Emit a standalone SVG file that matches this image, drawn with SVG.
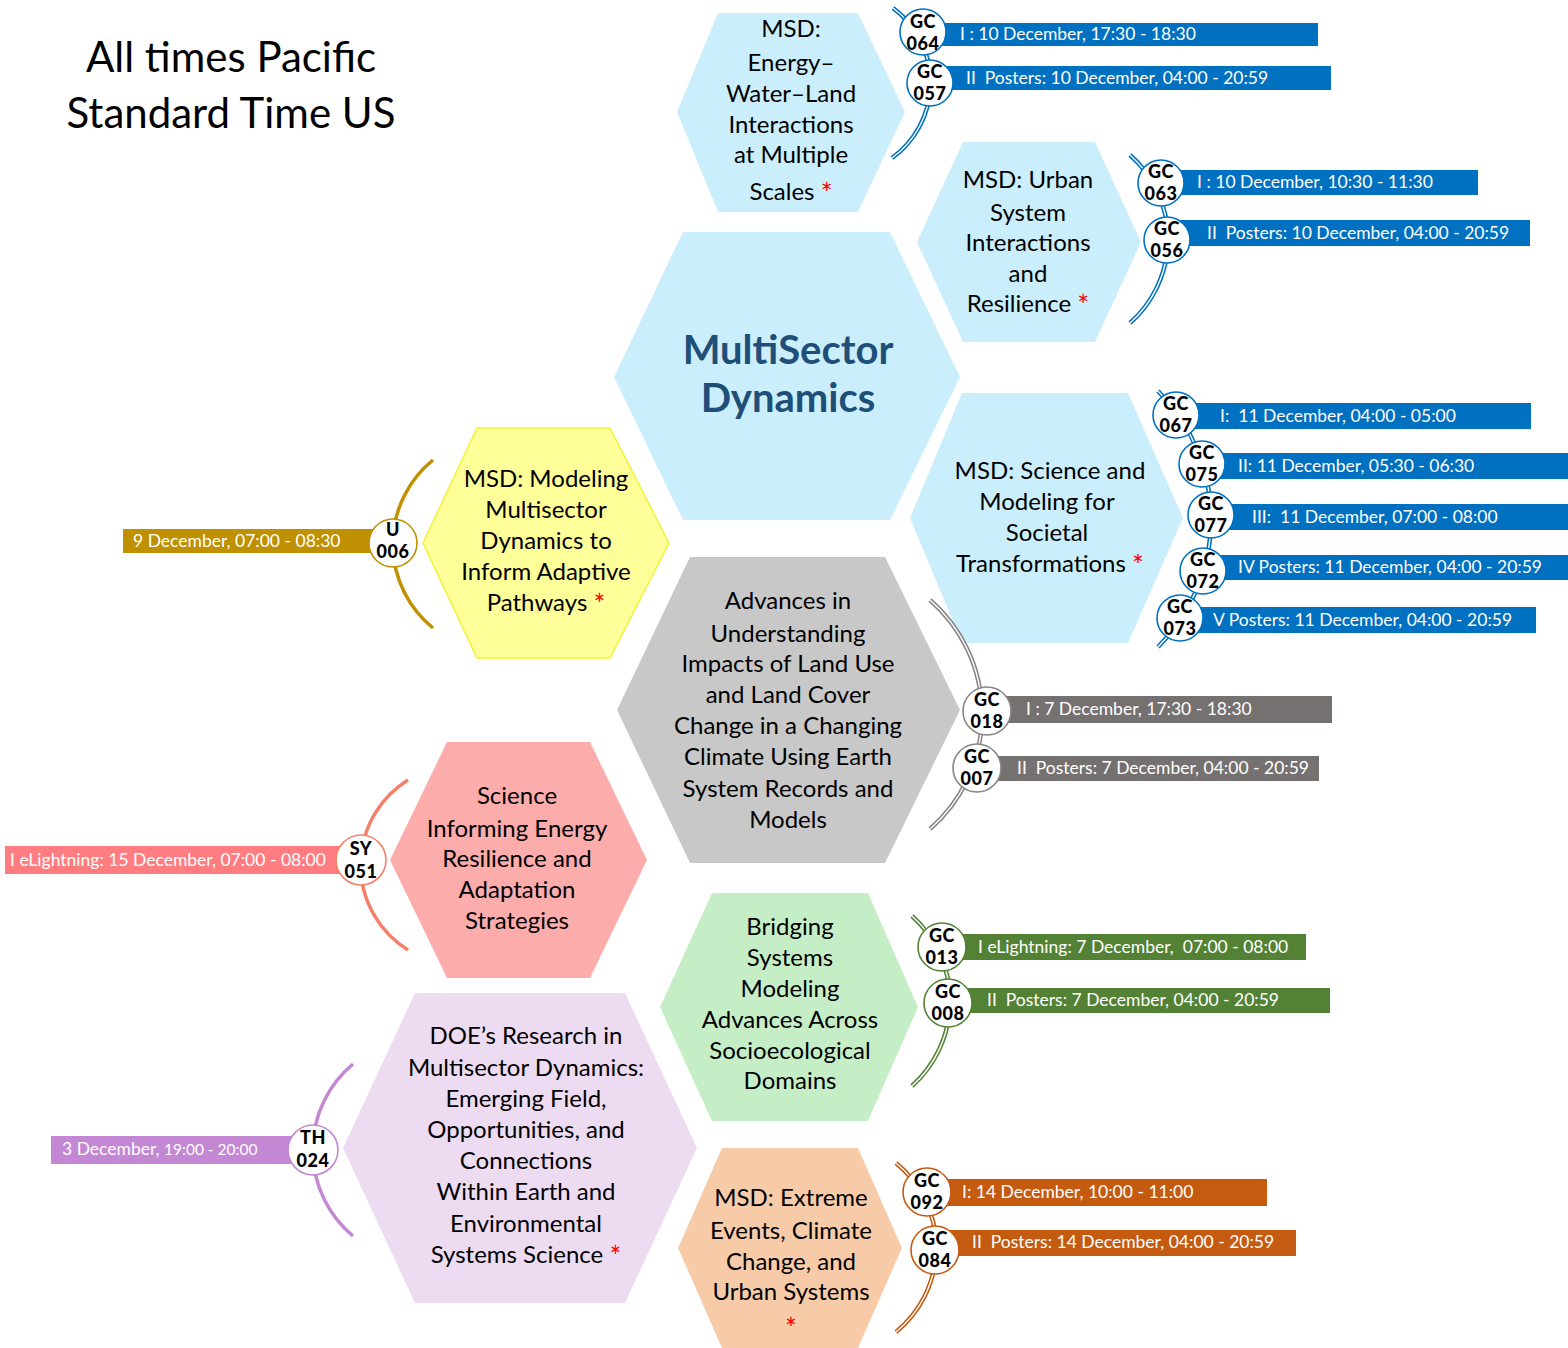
<svg xmlns="http://www.w3.org/2000/svg" width="1568" height="1348" viewBox="0 0 1568 1348">
<style>
text{font-family:Lato,"Open Sans","Liberation Sans",sans-serif}
.t{font-size:24px;fill:#000;text-anchor:middle}
.ast{fill:#ff0000;font-size:28px}
.title{font-size:42px;fill:#000;text-anchor:middle}
.big{font-size:40px;font-weight:700;fill:#1f4e79;text-anchor:middle}
.bt{font-size:17.5px;fill:#fff;white-space:pre}
.cid{font-size:18px;font-weight:900;fill:#000;text-anchor:middle;letter-spacing:0.5px}
.cw{fill:#fff;stroke-width:1.6}
.dbl{fill:none;stroke-width:4.5}
.inner{fill:none;stroke:#fff;stroke-width:1.4}
.sgl{fill:none;stroke-width:3.5}
.blue{fill:#0070c0}
.sblue{stroke:#0070c0}
.gray{fill:#767171}
.sgray{stroke:#8a8585}
.green{fill:#548235}
.sgreen{stroke:#548235}
.orange{fill:#c55a11}
.sorange{stroke:#c55a11}
</style>

<g id="title">
<text class="title" x="231" y="72">All times Pacific</text>
<text class="title" x="231" y="128">Standard Time US</text>
</g>

<g id="hex-energy">
<polygon points="677,112 718,13 858,13 905,112 858,212 718,212" fill="#cbeefc"/>
<text class="t" x="791" y="37">MSD:</text>
<text class="t" x="791" y="71">Energy–</text>
<text class="t" x="791" y="102">Water–Land</text>
<text class="t" x="791" y="133">Interactions</text>
<text class="t" x="791" y="163">at Multiple</text>
<text class="t" x="791" y="200">Scales <tspan class="ast" dy="4">*</tspan></text>
</g>

<g id="hex-msd">
<polygon points="614,377 683,232 890,232 960,377 890,520 683,520" fill="#cbeefc"/>
<text class="big" x="788" y="364">MultiSector</text>
<text class="big" x="788" y="412">Dynamics</text>
</g>

<g id="hex-urban">
<polygon points="917,242 963,142 1095,142 1141,242 1095,342 963,342" fill="#cbeefc"/>
<text class="t" x="1028" y="188">MSD: Urban</text>
<text class="t" x="1028" y="221">System</text>
<text class="t" x="1028" y="251">Interactions</text>
<text class="t" x="1028" y="282">and</text>
<text class="t" x="1028" y="312">Resilience <tspan class="ast" dy="4">*</tspan></text>
</g>

<g id="hex-societal">
<polygon points="910,518 962,393 1128,393 1183,518 1128,643 962,643" fill="#cbeefc"/>
<text class="t" x="1050" y="479">MSD: Science and</text>
<text class="t" x="1047" y="510">Modeling for</text>
<text class="t" x="1047" y="541">Societal</text>
<text class="t" x="1050" y="572">Transformations <tspan class="ast" dy="4">*</tspan></text>
</g>

<g id="hex-adaptive">
<polygon points="423,543 477,428 610,428 669,543 610,658 477,658" fill="#ffff99" stroke="#f2f23a" stroke-width="1.5"/>
<text class="t" x="546" y="487">MSD: Modeling</text>
<text class="t" x="546" y="518">Multisector</text>
<text class="t" x="546" y="549">Dynamics to</text>
<text class="t" x="546" y="580">Inform Adaptive</text>
<text class="t" x="546" y="611">Pathways <tspan class="ast" dy="4">*</tspan></text>
</g>

<g id="hex-landuse">
<polygon points="617,710 690,557 885,557 960,710 885,863 690,863" fill="#c8c8c8"/>
<text class="t" x="788" y="609">Advances in</text>
<text class="t" x="788" y="642">Understanding</text>
<text class="t" x="788" y="672">Impacts of Land Use</text>
<text class="t" x="788" y="703">and Land Cover</text>
<text class="t" x="788" y="734">Change in a Changing</text>
<text class="t" x="788" y="765">Climate Using Earth</text>
<text class="t" x="788" y="797">System Records and</text>
<text class="t" x="788" y="828">Models</text>
</g>

<g id="hex-energyres">
<polygon points="390,860 447,742 590,742 647,860 590,978 447,978" fill="#fdacac"/>
<text class="t" x="517" y="804">Science</text>
<text class="t" x="517" y="837">Informing Energy</text>
<text class="t" x="517" y="867">Resilience and</text>
<text class="t" x="517" y="898">Adaptation</text>
<text class="t" x="517" y="929">Strategies</text>
</g>

<g id="hex-bridging">
<polygon points="660,1007 712,893 868,893 918,1007 868,1121 712,1121" fill="#c6eec6"/>
<text class="t" x="790" y="935">Bridging</text>
<text class="t" x="790" y="966">Systems</text>
<text class="t" x="790" y="997">Modeling</text>
<text class="t" x="790" y="1028">Advances Across</text>
<text class="t" x="790" y="1059">Socioecological</text>
<text class="t" x="790" y="1089">Domains</text>
</g>

<g id="hex-doe">
<polygon points="343,1148 415,993 625,993 697,1148 625,1303 415,1303" fill="#eddcf1"/>
<text class="t" x="526" y="1044">DOE’s Research in</text>
<text class="t" x="526" y="1076">Multisector Dynamics:</text>
<text class="t" x="526" y="1107">Emerging Field,</text>
<text class="t" x="526" y="1138">Opportunities, and</text>
<text class="t" x="526" y="1169">Connections</text>
<text class="t" x="526" y="1200">Within Earth and</text>
<text class="t" x="526" y="1232">Environmental</text>
<text class="t" x="526" y="1263">Systems Science <tspan class="ast" dy="4">*</tspan></text>
</g>

<g id="hex-extreme">
<polygon points="678,1248 722,1148 858,1148 902,1248 858,1348 722,1348" fill="#f7cba8"/>
<text class="t" x="791" y="1206">MSD: Extreme</text>
<text class="t" x="791" y="1239">Events, Climate</text>
<text class="t" x="791" y="1270">Change, and</text>
<text class="t" x="791" y="1300">Urban Systems</text>
<text class="t" x="791" y="1339"><tspan class="ast">*</tspan></text>
</g>

<g id="connectors">
<path class="dbl sblue" d="M893,8 A93,93 0 0 1 892,158"/>
<path class="inner" d="M893,8 A93,93 0 0 1 892,158"/>
<path class="dbl sblue" d="M1130,155 A112,112 0 0 1 1130,323"/>
<path class="inner" d="M1130,155 A112,112 0 0 1 1130,323"/>
<path class="dbl sblue" d="M1158,391 A181,181 0 0 1 1158,647"/>
<path class="inner" d="M1158,391 A181,181 0 0 1 1158,647"/>
<path class="dbl sgray" d="M930,600 A152,152 0 0 1 930,829"/>
<path class="inner" d="M930,600 A152,152 0 0 1 930,829"/>
<path class="dbl sgreen" d="M912,916 A114,114 0 0 1 912,1086"/>
<path class="inner" d="M912,916 A114,114 0 0 1 912,1086"/>
<path class="dbl sorange" d="M896,1163 A109,109 0 0 1 896,1332"/>
<path class="inner" d="M896,1163 A109,109 0 0 1 896,1332"/>
<path class="sgl" stroke="#bf9000" d="M433,460 A108,108 0 0 0 433,628"/>
<path class="sgl" stroke="#f4806a" d="M408,780 A100,100 0 0 0 408,950"/>
<path class="sgl" stroke="#c387d3" d="M353,1064 A112,112 0 0 0 353,1236"/>
</g>

<g id="gc064">
<rect class="blue" x="930" y="23" width="388" height="23"/>
<text class="bt" x="960" y="40">I : 10 December, 17:30 - 18:30</text>
<circle class="cw sblue" cx="923" cy="32" r="23"/>
<text class="cid" x="923" y="28">GC</text>
<text class="cid" x="923" y="50">064</text>
</g>
<g id="gc057">
<rect class="blue" x="940" y="66" width="391" height="24"/>
<text class="bt" x="966" y="84">II  Posters: 10 December, 04:00 - 20:59</text>
<circle class="cw sblue" cx="930" cy="83" r="23"/>
<text class="cid" x="930" y="78">GC</text>
<text class="cid" x="930" y="100">057</text>
</g>

<g id="gc063">
<rect class="blue" x="1170" y="170" width="308" height="25"/>
<text class="bt" x="1197" y="188">I : 10 December, 10:30 - 11:30</text>
<circle class="cw sblue" cx="1161" cy="183" r="23"/>
<text class="cid" x="1161" y="178">GC</text>
<text class="cid" x="1161" y="200">063</text>
</g>
<g id="gc056">
<rect class="blue" x="1177" y="220" width="353" height="26"/>
<text class="bt" x="1207" y="239">II  Posters: 10 December, 04:00 - 20:59</text>
<circle class="cw sblue" cx="1167" cy="240" r="23"/>
<text class="cid" x="1167" y="235">GC</text>
<text class="cid" x="1167" y="257">056</text>
</g>

<g id="gc067">
<rect class="blue" x="1185" y="403" width="346" height="26"/>
<text class="bt" x="1220" y="422">I:  11 December, 04:00 - 05:00</text>
<circle class="cw sblue" cx="1176" cy="415" r="23"/>
<text class="cid" x="1176" y="410">GC</text>
<text class="cid" x="1176" y="432">067</text>
</g>
<g id="gc075">
<rect class="blue" x="1212" y="453" width="356" height="26"/>
<text class="bt" x="1238" y="472">II: 11 December, 05:30 - 06:30</text>
<circle class="cw sblue" cx="1202" cy="464" r="23"/>
<text class="cid" x="1202" y="459">GC</text>
<text class="cid" x="1202" y="481">075</text>
</g>
<g id="gc077">
<rect class="blue" x="1220" y="504" width="348" height="26"/>
<text class="bt" x="1252" y="523">III:  11 December, 07:00 - 08:00</text>
<circle class="cw sblue" cx="1211" cy="515" r="23"/>
<text class="cid" x="1211" y="510">GC</text>
<text class="cid" x="1211" y="532">077</text>
</g>
<g id="gc072">
<rect class="blue" x="1213" y="555" width="355" height="25"/>
<text class="bt" x="1238" y="573">IV Posters: 11 December, 04:00 - 20:59</text>
<circle class="cw sblue" cx="1203" cy="571" r="23"/>
<text class="cid" x="1203" y="566">GC</text>
<text class="cid" x="1203" y="588">072</text>
</g>
<g id="gc073">
<rect class="blue" x="1190" y="607" width="346" height="26"/>
<text class="bt" x="1213" y="626">V Posters: 11 December, 04:00 - 20:59</text>
<circle class="cw sblue" cx="1180" cy="618" r="23"/>
<text class="cid" x="1180" y="613">GC</text>
<text class="cid" x="1180" y="635">073</text>
</g>

<g id="gc018">
<rect class="gray" x="997" y="696" width="335" height="27"/>
<text class="bt" x="1026" y="715">I : 7 December, 17:30 - 18:30</text>
<circle class="cw sgray" cx="987" cy="711" r="24"/>
<text class="cid" x="987" y="706">GC</text>
<text class="cid" x="987" y="728">018</text>
</g>
<g id="gc007">
<rect class="gray" x="987" y="756" width="332" height="25"/>
<text class="bt" x="1017" y="774">II  Posters: 7 December, 04:00 - 20:59</text>
<circle class="cw sgray" cx="977" cy="768" r="24"/>
<text class="cid" x="977" y="763">GC</text>
<text class="cid" x="977" y="785">007</text>
</g>

<g id="gc013">
<rect class="green" x="952" y="934" width="354" height="26"/>
<text class="bt" x="978" y="953">I eLightning: 7 December,  07:00 - 08:00</text>
<circle class="cw sgreen" cx="942" cy="947" r="24"/>
<text class="cid" x="942" y="942">GC</text>
<text class="cid" x="942" y="964">013</text>
</g>
<g id="gc008">
<rect class="green" x="958" y="988" width="372" height="25"/>
<text class="bt" x="987" y="1006">II  Posters: 7 December, 04:00 - 20:59</text>
<circle class="cw sgreen" cx="948" cy="1003" r="24"/>
<text class="cid" x="948" y="998">GC</text>
<text class="cid" x="948" y="1020">008</text>
</g>

<g id="gc092">
<rect class="orange" x="935" y="1179" width="332" height="27"/>
<text class="bt" x="962" y="1198">I: 14 December, 10:00 - 11:00</text>
<circle class="cw sorange" cx="927" cy="1192" r="24"/>
<text class="cid" x="927" y="1187">GC</text>
<text class="cid" x="927" y="1209">092</text>
</g>
<g id="gc084">
<rect class="orange" x="945" y="1230" width="351" height="26"/>
<text class="bt" x="972" y="1248">II  Posters: 14 December, 04:00 - 20:59</text>
<circle class="cw sorange" cx="935" cy="1250" r="24"/>
<text class="cid" x="935" y="1245">GC</text>
<text class="cid" x="935" y="1267">084</text>
</g>

<g id="u006">
<rect x="123" y="529" width="260" height="24" fill="#bf9000"/>
<text class="bt" x="133" y="547">9 December, 07:00 - 08:30</text>
<circle class="cw" stroke="#bf9000" cx="393" cy="543" r="24"/>
<text class="cid" x="393" y="536">U</text>
<text class="cid" x="393" y="558">006</text>
</g>

<g id="sy051">
<rect x="5" y="846" width="345" height="28" fill="#ff7c80"/>
<text class="bt" x="10" y="866">I eLightning: 15 December, 07:00 - 08:00</text>
<circle class="cw" stroke="#f4806a" cx="361" cy="860" r="25"/>
<text class="cid" x="361" y="855">SY</text>
<text class="cid" x="361" y="878">051</text>
</g>

<g id="th024">
<rect x="51" y="1136" width="250" height="28" fill="#c387d3"/>
<text class="bt" x="62" y="1155">3 December, <tspan font-size="15.5">19:00 - 20:00</tspan></text>
<circle class="cw" stroke="#c387d3" cx="313" cy="1150" r="25"/>
<text class="cid" x="313" y="1144">TH</text>
<text class="cid" x="313" y="1167">024</text>
</g>
</svg>
